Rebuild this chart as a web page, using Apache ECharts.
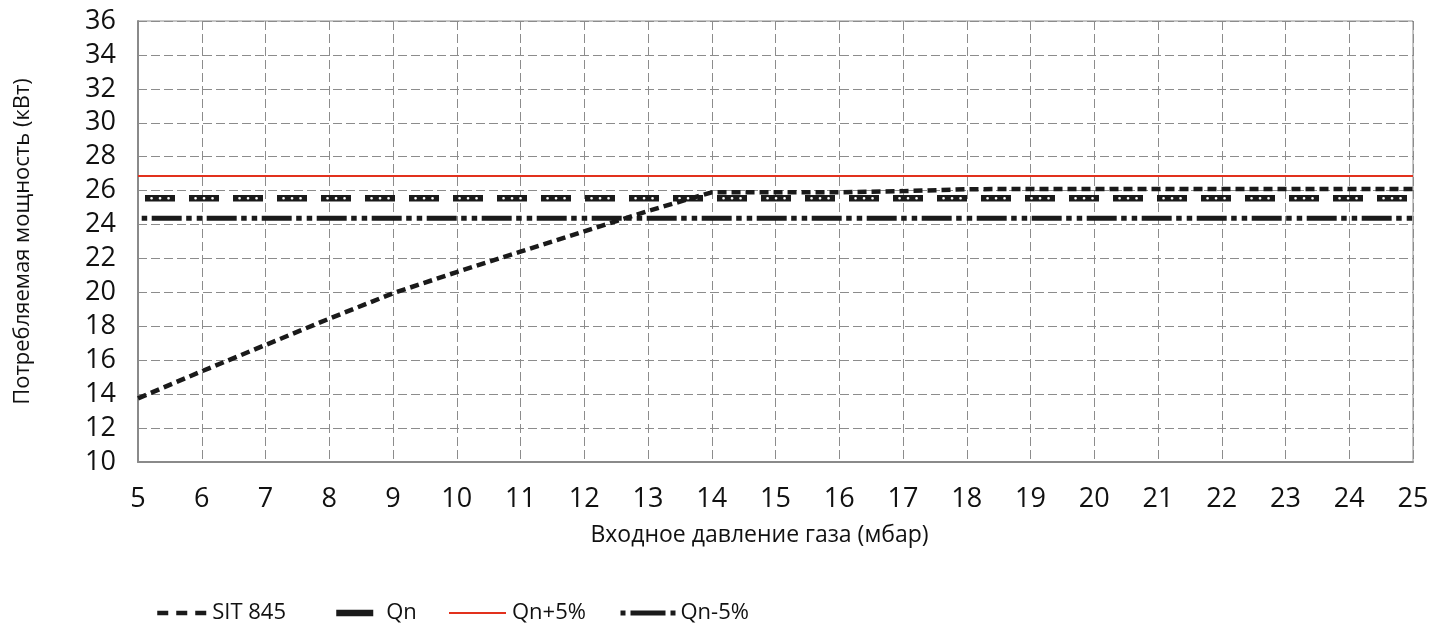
<!DOCTYPE html>
<html>
<head>
<meta charset="utf-8">
<script src="https://cdn.jsdelivr.net/npm/echarts@6/dist/echarts.min.js"></script>
<style>
  html, body { margin: 0; padding: 0; background: #fff; }
  #chart { width: 1435px; height: 623px; }
</style>
</head>
<body>
<div id="chart"></div>
<script>
// ---- data ----
const pressure = [5, 6, 7, 8, 9, 10, 11, 12, 13, 14, 15, 16, 17, 18, 19, 20, 21, 22, 23, 24, 25];
const sit845 = [13.75, 15.35, 16.9, 18.45, 19.95, 21.2, 22.4, 23.6, 24.8, 25.9, 25.9, 25.9, 25.97, 26.08, 26.1, 26.1, 26.1, 26.1, 26.1, 26.1, 26.1];
const qnRange = [5, 25];
const qn = 25.55;
const qnPlus5 = 26.86;
const qnMinus5 = 24.37;
const seriesNames = ['SIT 845', 'Qn', 'Qn+5%', 'Qn-5%'];
const xAxisTitle = 'Входное давление газа (мбар)';
const yAxisTitle = 'Потребляемая мощность (кВт)';

const FONT = '"Open Sans", "Noto Sans", sans-serif';
const BLACK = '#1a1a1a';
const RED = '#e2311d';

function pairs(xs, ys) { return xs.map((x, i) => [x, ys[i]]); }
function flat(v) { return qnRange.map(x => [x, v]); }

const chart = echarts.init(document.getElementById('chart'), null, { renderer: 'canvas' });

function legendAt(name, left, itemWidth, textPad, lineStyle) {
  return {
    data: [{ name: name, itemStyle: { opacity: 0 }, lineStyle: lineStyle }],
    left: left,
    top: 597,
    itemWidth: itemWidth,
    itemHeight: 14,
    itemGap: 0,
    selectedMode: false,
    textStyle: { fontFamily: FONT, fontSize: 22, color: '#111', padding: [0, 0, 0, textPad] }
  };
}

const option = {
  animation: false,
  backgroundColor: '#fff',
  grid: {
    left: 138, right: 22, top: 21, bottom: 161,
    show: true, borderColor: '#8c8c8c', borderWidth: 1
  },
  legend: [
    legendAt(seriesNames[0], 150, 50, 0, { color: BLACK, width: 4.5, type: [11, 8], dashOffset: 0, opacity: 1 }),
    legendAt(seriesNames[1], 328, 37, 8, { color: BLACK, width: 6.5, type: 'solid', dashOffset: 0, opacity: 1 }),
    legendAt(seriesNames[2], 443, 57, 1, { color: RED, width: 2, type: 'solid', dashOffset: 0, opacity: 1 }),
    legendAt(seriesNames[3], 613, 55, 0, { color: BLACK, width: 5, type: [5, 5, 35, 5, 5, 200], dashOffset: 0, opacity: 1 })
  ],
  xAxis: {
    type: 'value', min: 5, max: 25, interval: 1,
    name: xAxisTitle, nameLocation: 'middle', nameGap: 62,
    nameTextStyle: { fontFamily: FONT, fontSize: 23, color: '#111', padding: [0, 32, 0, 0] },
    axisLine: { show: true, lineStyle: { color: '#8a8a8a', width: 2 } },
    axisTick: { show: false },
    axisLabel: { fontFamily: FONT, fontSize: 27, color: '#111', margin: 24 },
    splitLine: { show: true, lineStyle: { color: '#8c8c8c', width: 1, type: [9, 4] } }
  },
  yAxis: {
    type: 'value', min: 10, max: 36, interval: 2,
    name: yAxisTitle, nameLocation: 'middle', nameGap: 104,
    nameTextStyle: { fontFamily: FONT, fontSize: 22, color: '#111' },
    axisLine: { show: true, lineStyle: { color: '#8a8a8a', width: 2 } },
    axisTick: { show: false },
    axisLabel: { fontFamily: FONT, fontSize: 27, color: '#111', margin: 22 },
    splitLine: { show: true, lineStyle: { color: '#8c8c8c', width: 1, type: [9, 4] } }
  },
  series: [
    {
      name: seriesNames[2], type: 'line', data: flat(qnPlus5),
      showSymbol: false, symbol: 'none', color: RED,
      lineStyle: { color: RED, width: 2 }, z: 3
    },
    {
      name: seriesNames[1], type: 'line', data: flat(qn),
      showSymbol: false, symbol: 'none', color: BLACK,
      lineStyle: { color: BLACK, width: 6.5, type: [30, 14], dashOffset: 37, cap: 'butt' }, z: 4
    },
    {
      name: 'Qn-dots', type: 'line', data: flat(qn),
      showSymbol: false, symbol: 'none', color: '#fff', silent: true,
      lineStyle: { color: '#fff', width: 2.6, type: [0.1, 8.4, 0.1, 8.4, 0.1, 26.9], dashOffset: 30.5, cap: 'round' }, z: 5
    },
    {
      name: seriesNames[3], type: 'line', data: flat(qnMinus5),
      showSymbol: false, symbol: 'none', color: BLACK,
      lineStyle: { color: BLACK, width: 5, type: [30, 4.5, 5.5, 5, 5.5, 4.5], dashOffset: 41.3, cap: 'butt' }, z: 4
    },
    {
      name: seriesNames[0], type: 'line', data: pairs(pressure, sit845),
      showSymbol: false, symbol: 'none', color: BLACK,
      lineStyle: { color: BLACK, width: 4.5, type: [9, 5], cap: 'butt' }, z: 6
    }
  ]
};
chart.setOption(option);
</script>
</body>
</html>
